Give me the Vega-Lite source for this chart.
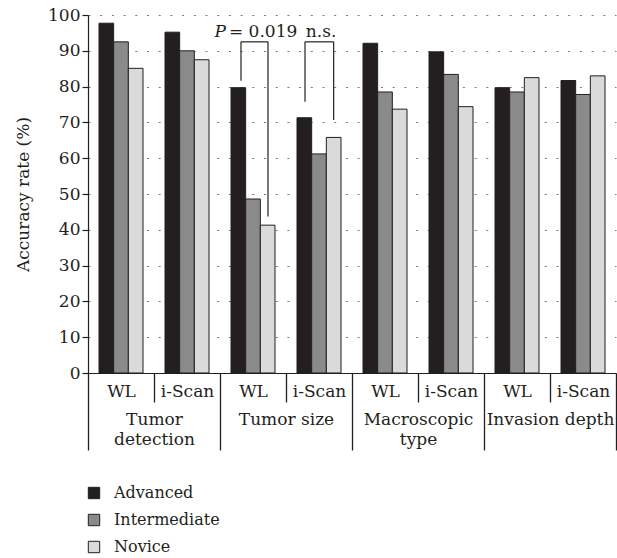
{
  "$schema": "https://vega.github.io/schema/vega-lite/v6.json",
  "width": 528,
  "height": 358,
  "autosize": {"type": "none"},
  "padding": {"left": 88, "top": 15, "right": 1, "bottom": 185},
  "background": "white",
  "config": {
    "view": {"stroke": null},
    "font": "DejaVu Serif",
    "axis": {"labelFont": "DejaVu Serif", "titleFont": "DejaVu Serif"},
    "legend": {"labelFont": "DejaVu Serif"},
    "text": {"font": "DejaVu Serif"}
  },
  "encoding": {
    "y": {
      "field": "value",
      "type": "quantitative",
      "scale": {"domain": [0, 100], "nice": false, "zero": true},
      "axis": {
        "values": [0, 10, 20, 30, 40, 50, 60, 70, 80, 90, 100],
        "title": "Accuracy rate (%)",
        "grid": true,
        "gridDash": [2, 9.7],
        "gridColor": "#7a7a7a",
        "gridWidth": 1,
        "domainColor": "#231f20",
        "domainWidth": 1.2,
        "tickColor": "#231f20",
        "tickWidth": 1.2,
        "tickSize": 6,
        "labelFontSize": 17,
        "labelPadding": 2,
        "labelColor": "#231f20",
        "titleFontSize": 17,
        "titleFontWeight": "normal",
        "titleColor": "#231f20",
        "titleX": -65,
        "titleY": 179,
        "titleAlign": "center",
        "titleBaseline": "middle"
      }
    }
  },
  "layer": [
    {
      "data": {
        "values": [
          {"band": "TD-WL", "level": "Advanced", "value": 97.7},
          {"band": "TD-WL", "level": "Intermediate", "value": 92.5},
          {"band": "TD-WL", "level": "Novice", "value": 85.1},
          {"band": "TD-iS", "level": "Advanced", "value": 95.2},
          {"band": "TD-iS", "level": "Intermediate", "value": 90.0},
          {"band": "TD-iS", "level": "Novice", "value": 87.5},
          {"band": "TS-WL", "level": "Advanced", "value": 79.7},
          {"band": "TS-WL", "level": "Intermediate", "value": 48.6},
          {"band": "TS-WL", "level": "Novice", "value": 41.3},
          {"band": "TS-iS", "level": "Advanced", "value": 71.3},
          {"band": "TS-iS", "level": "Intermediate", "value": 61.2},
          {"band": "TS-iS", "level": "Novice", "value": 65.8},
          {"band": "MT-WL", "level": "Advanced", "value": 92.1},
          {"band": "MT-WL", "level": "Intermediate", "value": 78.5},
          {"band": "MT-WL", "level": "Novice", "value": 73.7},
          {"band": "MT-iS", "level": "Advanced", "value": 89.7},
          {"band": "MT-iS", "level": "Intermediate", "value": 83.4},
          {"band": "MT-iS", "level": "Novice", "value": 74.4},
          {"band": "ID-WL", "level": "Advanced", "value": 79.7},
          {"band": "ID-WL", "level": "Intermediate", "value": 78.5},
          {"band": "ID-WL", "level": "Novice", "value": 82.5},
          {"band": "ID-iS", "level": "Advanced", "value": 81.7},
          {"band": "ID-iS", "level": "Intermediate", "value": 77.8},
          {"band": "ID-iS", "level": "Novice", "value": 83.0}
        ]
      },
      "mark": {"type": "bar", "stroke": "#231f20", "strokeWidth": 1},
      "encoding": {
        "x": {
          "field": "band",
          "type": "nominal",
          "sort": ["TD-WL", "TD-iS", "TS-WL", "TS-iS", "MT-WL", "MT-iS", "ID-WL", "ID-iS"],
          "scale": {"paddingInner": 0, "paddingOuter": 0},
          "axis": null
        },
        "xOffset": {
          "field": "level",
          "type": "nominal",
          "sort": ["Advanced", "Intermediate", "Novice"],
          "scale": {"paddingInner": 0, "paddingOuter": 0.75}
        },
        "color": {
          "field": "level",
          "type": "nominal",
          "sort": ["Advanced", "Intermediate", "Novice"],
          "scale": {"domain": ["Advanced", "Intermediate", "Novice"], "range": ["#231f20", "#8a8a8a", "#dadada"]},
          "legend": {
            "orient": "none",
            "legendX": -2,
            "legendY": 470,
            "title": null,
            "direction": "vertical",
            "symbolType": "square",
            "symbolSize": 130,
            "symbolStrokeColor": "#231f20",
            "symbolStrokeWidth": 1,
            "symbolOpacity": 1,
            "labelFontSize": 16,
            "labelColor": "#231f20",
            "labelOffset": 12,
            "rowPadding": 11
          }
        }
      }
    },
    {
      "data": {
        "values": [
          {"x": 2.318, "x2": 2.318, "value": 81.6, "value2": 92.5},
          {"x": 2.318, "x2": 2.727, "value": 92.5, "value2": 92.5},
          {"x": 2.727, "x2": 2.727, "value": 92.5, "value2": 43.7},
          {"x": 3.288, "x2": 3.288, "value": 75.8, "value2": 92.5},
          {"x": 3.288, "x2": 3.722, "value": 92.5, "value2": 92.5},
          {"x": 3.722, "x2": 3.722, "value": 92.5, "value2": 70.7}
        ]
      },
      "mark": {"type": "rule", "color": "#231f20", "strokeWidth": 1.2},
      "encoding": {
        "x": {
          "field": "x",
          "type": "quantitative",
          "scale": {"domain": [0, 8], "nice": false, "zero": false},
          "axis": {
            "values": [0, 0.5, 1, 1.5, 2, 2.5, 3, 3.5, 4, 4.5, 5, 5.5, 6, 6.5, 7, 7.5, 8],
            "orient": "bottom",
            "title": null,
            "grid": false,
            "domain": true,
            "domainColor": "#231f20",
            "domainWidth": 1.2,
            "ticks": true,
            "tickColor": "#231f20",
            "tickWidth": 1.3,
            "tickSize": {"condition": [{"test": "datum.value % 2 == 0", "value": 77}, {"test": "datum.value % 1 == 0", "value": 29}], "value": 0},
            "labelExpr": "datum.value % 1 != 0 ? (floor(datum.value) % 2 == 0 ? 'WL' : 'i-Scan') : datum.value == 1 ? ['Tumor', 'detection'] : datum.value == 3 ? 'Tumor size' : datum.value == 5 ? ['Macroscopic', 'type'] : datum.value == 7 ? 'Invasion depth' : ''",
            "labelFontSize": 17,
            "labelColor": "#231f20",
            "labelPadding": {"condition": {"test": "datum.value % 1 == 0", "value": 9}, "value": 10},
            "labelLineHeight": 20,
            "labelFlush": false,
            "labelOverlap": false,
            "labelBound": false,
            "labelAngle": 0
          }
        },
        "x2": {"field": "x2"},
        "y2": {"field": "value2"}
      }
    },
    {
      "data": {
        "values": [
          {"x": 2.09, "value": 93.9, "t": "P"}
        ]
      },
      "mark": {"type": "text", "fontSize": 17, "fontStyle": "italic", "align": "right", "baseline": "alphabetic", "color": "#231f20"},
      "encoding": {
        "x": {"field": "x", "type": "quantitative", "scale": {"domain": [0, 8], "nice": false, "zero": false}, "axis": null},
        "text": {"field": "t"}
      }
    },
    {
      "data": {
        "values": [
          {"x": 2.136, "value": 93.9, "t": "= 0.019"},
          {"x": 3.3, "value": 93.9, "t": "n.s."}
        ]
      },
      "mark": {"type": "text", "fontSize": 17, "align": "left", "baseline": "alphabetic", "color": "#231f20"},
      "encoding": {
        "x": {"field": "x", "type": "quantitative", "scale": {"domain": [0, 8], "nice": false, "zero": false}, "axis": null},
        "text": {"field": "t"}
      }
    }
  ],
  "resolve": {"scale": {"x": "independent"}}
}
